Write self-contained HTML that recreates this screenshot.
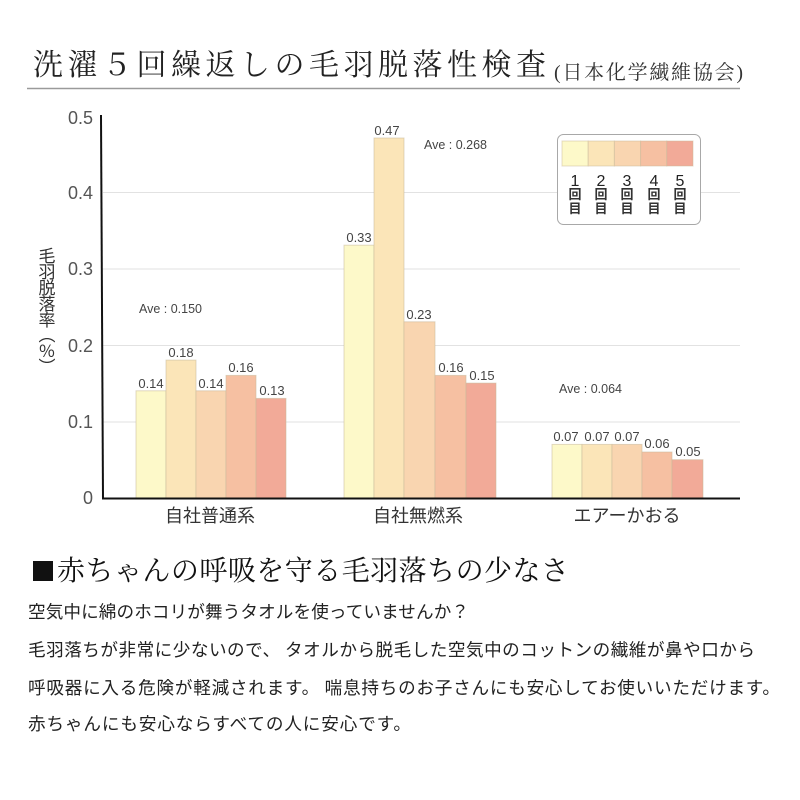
<!DOCTYPE html>
<html><head><meta charset="utf-8"><style>
html,body{margin:0;padding:0;background:#fff;}
svg{display:block;}
.sans{font-family:"Liberation Sans","Noto Sans CJK JP",sans-serif;}
.serif{font-family:"Liberation Serif","Noto Serif CJK SC",serif;}
.jp{font-family:"Noto Sans CJK JP","Liberation Sans",sans-serif;}
</style></head><body>
<svg width="800" height="800" viewBox="0 0 800 800" xmlns="http://www.w3.org/2000/svg">
<rect width="800" height="800" fill="#fff"/>
<!-- Title -->
<text class="serif" x="33" y="75" font-size="30" fill="#222" textLength="513" lengthAdjust="spacing">洗濯５回繰返しの毛羽脱落性検査</text>
<text class="serif" x="554" y="79" font-size="20" fill="#333" textLength="189" lengthAdjust="spacing">(日本化学繊維協会)</text>
<line x1="27" y1="88.5" x2="740" y2="88.5" stroke="#9a9a9a" stroke-width="1.5"/>

<!-- gridlines -->
<g stroke="#e2e2e2" stroke-width="1">
<line x1="103" y1="192.5" x2="740" y2="192.5"/>
<line x1="103" y1="269" x2="740" y2="269"/>
<line x1="103" y1="345.5" x2="740" y2="345.5"/>
<line x1="103" y1="422" x2="740" y2="422"/>
</g>

<!-- tick labels -->
<g class="sans" font-size="18" fill="#555" text-anchor="end">
<text x="93" y="124">0.5</text>
<text x="93" y="199">0.4</text>
<text x="93" y="275">0.3</text>
<text x="93" y="352">0.2</text>
<text x="93" y="428">0.1</text>
<text x="93" y="504">0</text>
</g>

<!-- y label vertical -->
<g class="jp" font-size="17" fill="#333" text-anchor="middle">
<text x="47" y="262">毛</text>
<text x="47" y="278">羽</text>
<text x="47" y="294">脱</text>
<text x="47" y="310">落</text>
<text x="47" y="326">率</text>
<text x="47" y="341">︵</text>
<text x="47" y="357">%</text>
<text x="47" y="373">︶</text>
</g>

<!-- bars group 1 -->
<g stroke="#c9b99a" stroke-opacity="0.55" stroke-width="1">
<rect x="136" y="390.8" width="30" height="107.2" fill="#fdf9c9"/>
<rect x="166" y="360.1" width="30" height="137.9" fill="#fbe5b8"/>
<rect x="196" y="390.8" width="30" height="107.2" fill="#f9d5b0"/>
<rect x="226" y="375.4" width="30" height="122.6" fill="#f6c0a2"/>
<rect x="256" y="398.4" width="30" height="99.6" fill="#f2aa98"/>
<!-- group 2 -->
<rect x="344" y="245.2" width="30" height="252.8" fill="#fdf9c9"/>
<rect x="374" y="138" width="30" height="360" fill="#fbe5b8"/>
<rect x="404" y="321.8" width="31" height="176.2" fill="#f9d5b0"/>
<rect x="435" y="375.4" width="31" height="122.6" fill="#f6c0a2"/>
<rect x="466" y="383.1" width="30" height="114.9" fill="#f2aa98"/>
<!-- group 3 -->
<rect x="552" y="444.4" width="30" height="53.6" fill="#fdf9c9"/>
<rect x="582" y="444.4" width="30" height="53.6" fill="#fbe5b8"/>
<rect x="612" y="444.4" width="30" height="53.6" fill="#f9d5b0"/>
<rect x="642" y="452" width="30" height="46" fill="#f6c0a2"/>
<rect x="672" y="459.7" width="31" height="38.3" fill="#f2aa98"/>
</g>

<!-- value labels -->
<g class="sans" font-size="13" fill="#444" text-anchor="middle">
<text x="151" y="388">0.14</text>
<text x="181" y="357">0.18</text>
<text x="211" y="388">0.14</text>
<text x="241" y="372">0.16</text>
<text x="272" y="395">0.13</text>
<text x="359" y="242">0.33</text>
<text x="387" y="135">0.47</text>
<text x="419" y="319">0.23</text>
<text x="451" y="372">0.16</text>
<text x="482" y="380">0.15</text>
<text x="566" y="441">0.07</text>
<text x="597" y="441">0.07</text>
<text x="627" y="441">0.07</text>
<text x="657" y="448">0.06</text>
<text x="688" y="456">0.05</text>
</g>

<!-- Ave labels -->
<g class="sans" font-size="12.5" fill="#444">
<text x="139" y="313">Ave : 0.150</text>
<text x="424" y="149">Ave : 0.268</text>
<text x="559" y="393">Ave : 0.064</text>
</g>

<!-- axes -->
<path d="M101 115 L103 499" stroke="#111" stroke-width="2" fill="none"/>
<line x1="102" y1="498.5" x2="740" y2="498.5" stroke="#111" stroke-width="2"/>

<!-- group labels -->
<g class="jp" font-size="18" fill="#333" text-anchor="middle">
<text x="210" y="522">自社普通系</text>
<text x="418" y="522">自社無燃系</text>
<text x="627" y="522">エアーかおる</text>
</g>

<!-- legend -->
<rect x="557.5" y="134.5" width="143" height="90" rx="6" fill="#fff" stroke="#a8a8a8" stroke-width="1"/>
<g stroke="#c9b99a" stroke-opacity="0.5" stroke-width="1">
<rect x="562" y="141" width="26.2" height="25" fill="#fdf9c9"/>
<rect x="588.2" y="141" width="26.2" height="25" fill="#fbe5b8"/>
<rect x="614.4" y="141" width="26.2" height="25" fill="#f9d5b0"/>
<rect x="640.6" y="141" width="26.2" height="25" fill="#f6c0a2"/>
<rect x="666.8" y="141" width="26.2" height="25" fill="#f2aa98"/>
</g>
<g class="sans" font-size="16" fill="#222" text-anchor="middle">
<text x="575" y="186">1</text>
<text x="601" y="186">2</text>
<text x="627" y="186">3</text>
<text x="654" y="186">4</text>
<text x="680" y="186">5</text>
</g>
<g class="jp" font-size="13" font-weight="bold" fill="#333" text-anchor="middle">
<text x="575" y="199">回</text><text x="575" y="213">目</text>
<text x="601" y="199">回</text><text x="601" y="213">目</text>
<text x="627" y="199">回</text><text x="627" y="213">目</text>
<text x="654" y="199">回</text><text x="654" y="213">目</text>
<text x="680" y="199">回</text><text x="680" y="213">目</text>
</g>

<!-- heading -->
<rect x="33" y="561" width="20" height="20" fill="#111"/>
<text class="serif" x="57" y="580" font-size="28" fill="#111" textLength="512" lengthAdjust="spacing">赤ちゃんの呼吸を守る毛羽落ちの少なさ</text>

<!-- body -->
<g class="jp" font-size="17.6" fill="#222">
<text x="28" y="618" textLength="441" lengthAdjust="spacing">空気中に綿のホコリが舞うタオルを使っていませんか？</text>
<text x="28" y="656" textLength="727" lengthAdjust="spacing">毛羽落ちが非常に少ないので、 タオルから脱毛した空気中のコットンの繊維が鼻や口から</text>
<text x="28" y="694" textLength="752" lengthAdjust="spacing">呼吸器に入る危険が軽減されます。 喘息持ちのお子さんにも安心してお使いいただけます。</text>
<text x="28" y="730" textLength="383" lengthAdjust="spacing">赤ちゃんにも安心ならすべての人に安心です。</text>
</g>
</svg>
</body></html>
